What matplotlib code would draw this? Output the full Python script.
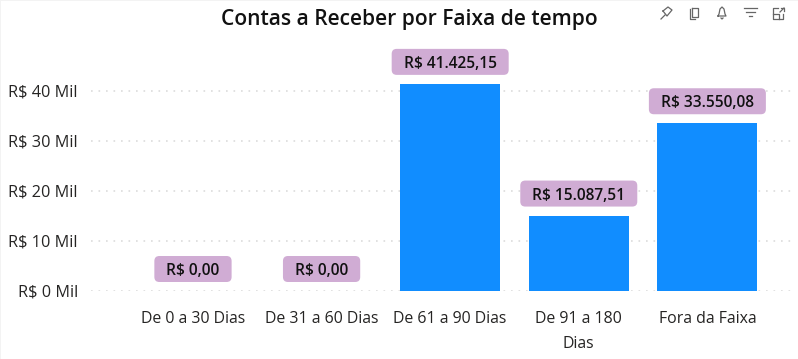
import matplotlib.pyplot as plt
from matplotlib.lines import Line2D
from matplotlib.patches import FancyBboxPatch, Rectangle
from matplotlib.transforms import IdentityTransform

plt.rcParams['font.family'] = ['Open Sans', 'DejaVu Sans']

categorias = ['De 0 a 30 Dias', 'De 31 a 60 Dias', 'De 61 a 90 Dias', 'De 91 a 180\nDias', 'Fora da Faixa']
valores = [0.00, 0.00, 41425.15, 15087.51, 33550.08]
rotulos = ['R$ 0,00', 'R$ 0,00', 'R$ 41.425,15', 'R$ 15.087,51', 'R$ 33.550,08']
y_ticks = [0, 10000, 20000, 30000, 40000]
y_labels = ['R$ 0 Mil', 'R$ 10 Mil', 'R$ 20 Mil', 'R$ 30 Mil', 'R$ 40 Mil']

W, H = 798, 359
fig = plt.figure(figsize=(W / 100, H / 100), dpi=100, facecolor='white')

# eixo posicionado em pixels da imagem
esq, dir_, topo, base = 91, 792, 30, 291
ax = fig.add_axes([esq / W, 1 - base / H, (dir_ - esq) / W, (base - topo) / H])
x = list(range(len(categorias)))
ax.bar(x, valores, width=0.777, color='#118DFF', zorder=2)
ax.set_xlim(-0.793, 4.658)
ax.set_ylim(0, 52200)

ax.set_yticks(y_ticks)
ax.set_yticklabels(y_labels, fontsize=11.7, color='#252423')
ax.set_xticks(x)
ax.set_xticklabels(categorias, fontsize=11.4, color='#252423', linespacing=1.7)
ax.tick_params(axis='both', length=0)
ax.tick_params(axis='x', pad=14.5)
ax.tick_params(axis='y', pad=9.5)
ax.grid(axis='y', color='#dcdcdc', linestyle=(0, (1, 3.5)), linewidth=1.2, zorder=0)
for s in ax.spines.values():
    s.set_visible(False)

# rotulos de dados com fundo lilas, caixa medida em pixels
fig.canvas.draw()
rend = fig.canvas.get_renderer()
for i, (v, r) in enumerate(zip(valores, rotulos)):
    px_x, px_y = ax.transData.transform((i, v))
    cy = px_y + 22
    t = ax.text(px_x, cy, r, transform=IdentityTransform(), ha='center', va='center_baseline', fontsize=11.2,
                fontweight='semibold', color='#111111', zorder=5)
    larg = t.get_window_extent(rend).width + 24
    caixa = FancyBboxPatch((px_x - larg / 2 + 5, cy - 8), larg - 10, 16,
                           boxstyle='round,pad=5,rounding_size=5', transform=IdentityTransform(),
                           fc='#D0ACD4', ec='none', zorder=4, clip_on=False)
    ax.add_artist(caixa)

fig.text(409.5 / W, 1 - 19 / H, 'Contas a Receber por Faixa de tempo', ha='center', va='center',
         fontsize=15.15, fontweight='semibold', color='#111111')

# icones do cabecalho, em pixels
def px(xs, ys, cor='#666666', lw=0.9):
    fig.add_artist(Line2D([a / W for a in xs], [1 - b / H for b in ys], color=cor, linewidth=lw))

# alfinete
px([661, 665], [19, 15])
px([663, 668, 672, 667, 663], [11, 7, 10, 16, 11])
# copiar
px([692, 698, 698, 692, 692], [8, 8, 17, 17, 8])
px([690, 690, 695], [9, 19, 19])
# sino
px([718, 719, 720, 722, 724, 725, 726, 718], [16, 14, 9, 7, 9, 14, 16, 16])
px([721, 722, 723], [18, 19, 18])
# filtro
px([744, 757], [8, 8])
px([746, 755], [12, 12])
px([749, 752], [16, 16])
# foco
px([778, 773, 773, 783, 783], [8, 8, 19, 19, 14])
px([773, 779, 779], [14, 14, 19])
px([780, 784], [12, 8])
px([781, 784, 784], [8, 8, 11])

# bordas claras do cartao
fig.add_artist(Rectangle((0, 1 - 1 / H), 1, 1 / H, transform=fig.transFigure, fc='#f3f3f3', ec='none'))
fig.add_artist(Rectangle((0, 0), 1 / W, 1, transform=fig.transFigure, fc='#f3f3f3', ec='none'))

fig.savefig('out.png', dpi=100, facecolor='white')
